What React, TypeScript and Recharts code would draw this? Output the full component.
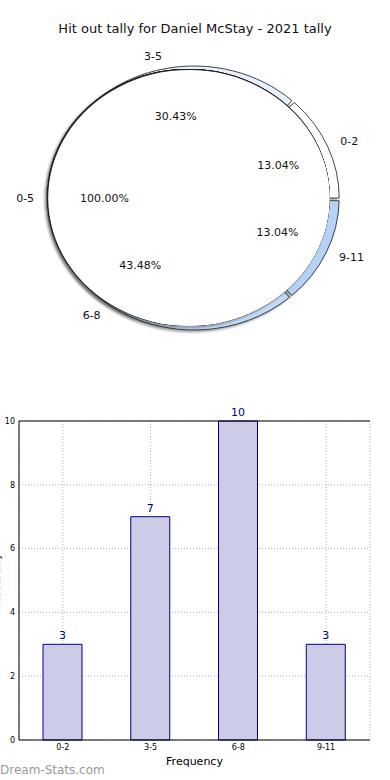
import { PieChart, Pie, Cell, BarChart, Bar, XAxis, YAxis, CartesianGrid, LabelList, ReferenceLine } from 'recharts';

// hit out tally by range
const ranges = ['0-2', '3-5', '6-8', '9-11'];
const hitOuts = [3, 7, 10, 3];
const totalRanges = ['0-5'];
const totalHitOuts = [23];
const yTicks = [0, 2, 4, 6, 8, 10];

const ringColors = ['#ffffff', '#e8f0fd', '#c2daf8', '#b5d3f9'];

const CX = 189;
const CY = 198;
const RING_CX = 194; // the outer ring sits a little to the right
const R = 128;
const KX = 1.1; // the pie is drawn a bit wider than tall
const RAD = Math.PI / 180;

const font = '"DejaVu Sans", "Noto Sans", sans-serif';

const ringData = ranges.map((r, i) => ({ name: r, value: hitOuts[i] }));
const totalData = totalRanges.map((r, i) => ({ name: r, value: totalHitOuts[i] }));
const barData = ranges.map((r, i) => ({ range: r, hitOuts: hitOuts[i] }));

const makePieLabel = (pctDist: number, nameDist: number) => (props: any) => {
  const { cx, cy, midAngle, percent, name } = props;
  const cos = Math.cos(-midAngle * RAD);
  const sin = Math.sin(-midAngle * RAD);
  const px = cx + R * pctDist * KX * cos;
  const py = cy + R * pctDist * sin;
  const nx = cx + R * nameDist * KX * cos;
  const ny = cy + R * nameDist * sin;
  return (
    <g>
      <text x={nx} y={ny} textAnchor={cos >= 0 ? 'start' : 'end'} dominantBaseline="central" fontSize={11} fill="#111">
        {name}
      </text>
      <text x={px} y={py} textAnchor="middle" dominantBaseline="central" fontSize={11} fill="#111">
        {(percent * 100).toFixed(2)}%
      </text>
    </g>
  );
};

export default function App() {
  return (
    <div style={{ position: 'absolute', left: 0, top: 0, width: 390, height: 780, background: '#fff', fontFamily: font, overflow: 'hidden' }}>
      <style>{`
        .pie-wrap .inner-pie path.recharts-sector {
          stroke: none;
          transform-origin: ${CX}px ${CY}px;
          transform: scaleX(${KX});
          filter: drop-shadow(0.6px 0 0 #222) drop-shadow(-0.6px 0 0 #222) drop-shadow(0 0.6px 0 #222) drop-shadow(0 -0.6px 0 #222) drop-shadow(-1.5px 2px 1px rgba(0,0,0,0.3));
        }
        .pie-wrap .ring-pie path.recharts-sector {
          transform-origin: ${RING_CX}px ${CY}px;
          transform: scaleX(${KX});
          filter: drop-shadow(-1.5px 2px 1px rgba(0,0,0,0.35));
        }
      `}</style>

      {/* Title */}
      <div style={{ position: 'absolute', top: 21, left: 0, width: 390, textAlign: 'center', fontSize: 13, color: '#111' }}>
        Hit out tally for Daniel McStay - 2021 tally
      </div>

      {/* Pie: outer ring first, the total pie over it, then the ring's labels */}
      <div className="pie-wrap" style={{ position: 'absolute', left: 0, top: 0 }}>
        <PieChart width={390} height={390} margin={{ top: 0, right: 0, bottom: 0, left: 0 }}>
          <Pie
            className="ring-pie"
            data={ringData}
            dataKey="value"
            nameKey="name"
            cx={RING_CX}
            cy={CY}
            innerRadius={118}
            outerRadius={132}
            startAngle={0}
            endAngle={360}
            paddingAngle={1.2}
            stroke="#222"
            strokeWidth={0.8}
            isAnimationActive={false}
          >
            {ringData.map((entry, index) => (
              <Cell key={`ring-${index}`} fill={ringColors[index]} />
            ))}
          </Pie>
          <Pie
            className="inner-pie"
            data={totalData}
            dataKey="value"
            nameKey="name"
            cx={CX}
            cy={CY}
            outerRadius={R}
            startAngle={0}
            endAngle={360}
            stroke="none"
            fill="#ffffff"
            label={makePieLabel(0.6, 1.1)}
            labelLine={false}
            isAnimationActive={false}
          />
          <Pie
            className="ring-labels"
            data={ringData}
            dataKey="value"
            nameKey="name"
            cx={RING_CX}
            cy={CY}
            innerRadius={118}
            outerRadius={132}
            startAngle={0}
            endAngle={360}
            paddingAngle={1.2}
            fill="none"
            stroke="none"
            label={makePieLabel(0.65, 1.13)}
            labelLine={false}
            isAnimationActive={false}
          />
        </PieChart>
      </div>

      {/* Bars */}
      <div style={{ position: 'absolute', left: 0, top: 400 }}>
        <BarChart width={390} height={380} data={barData} margin={{ top: 21, right: 20, bottom: 0, left: 0 }}>
          <CartesianGrid stroke="#b5b5b5" strokeDasharray="1 2" />
          <XAxis
            dataKey="range"
            height={40}
            tickLine={false}
            tickSize={0}
            tickMargin={4}
            axisLine={{ stroke: '#000' }}
            tick={{ fontSize: 8, fill: '#000' }}
            label={{ value: 'Frequency', position: 'insideBottom', offset: 15, fontSize: 11, fill: '#000' }}
          />
          <YAxis
            domain={[0, 10]}
            ticks={yTicks}
            width={19}
            tickLine={false}
            tickSize={0}
            tickMargin={4}
            axisLine={{ stroke: '#000' }}
            tick={{ fontSize: 8, fill: '#000' }}
            label={{ value: 'Hit out tally', angle: -90, position: 'insideLeft', offset: -3, fontSize: 9, fill: '#000', style: { textAnchor: 'middle' } }}
          />
          <YAxis yAxisId="right" orientation="right" domain={[0, 10]} width={0} tick={false} tickLine={false} axisLine={{ stroke: '#000' }} />
          <ReferenceLine y={10} stroke="#000" />
          <Bar dataKey="hitOuts" barSize={39} fill="#ccccE6" stroke="#000080" strokeWidth={1} isAnimationActive={false}>
            <LabelList dataKey="hitOuts" position="top" fill="#000080" fontSize={11} />
          </Bar>
        </BarChart>
      </div>

      {/* Watermark */}
      <div style={{ position: 'absolute', left: 0, top: 763, fontSize: 12, color: '#9a9a9a' }}>Dream-Stats.com</div>
    </div>
  );
}
